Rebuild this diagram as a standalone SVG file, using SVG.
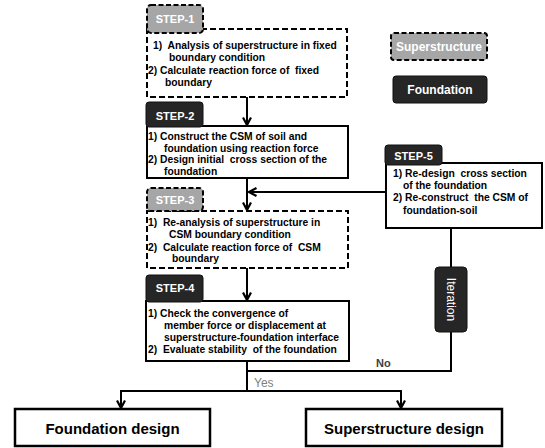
<svg xmlns="http://www.w3.org/2000/svg" width="545" height="448" viewBox="0 0 545 448">
<defs>
<marker id="arr" viewBox="0 0 10 10" refX="9" refY="5" markerWidth="10" markerHeight="10" markerUnits="userSpaceOnUse" orient="auto">
<path d="M1.5,1 L9,5 L1.5,9" fill="none" stroke="#000" stroke-width="2.2"/>
</marker>
<style>
.dash{fill:#fff;stroke:#000;stroke-width:2;stroke-dasharray:6,3}
.solid{fill:#fff;stroke:#000;stroke-width:2}
.tabg{fill:#a6a6a6;stroke:#000;stroke-width:2;stroke-dasharray:5,2.5}
.tabd{fill:#262626;stroke:#111;stroke-width:1}
.tt{font-family:"Liberation Sans",Arial,sans-serif;font-weight:bold;font-size:11px;fill:#fff;text-anchor:middle}
.bt{font-family:"Liberation Sans",Arial,sans-serif;font-weight:bold;font-size:10.3px;fill:#000}
.ln{fill:none;stroke:#000;stroke-width:2}
.big{fill:#fff;stroke:#000;stroke-width:2.5}
.bigt{font-family:"Liberation Sans",Arial,sans-serif;font-weight:bold;font-size:15px;fill:#000;text-anchor:middle}
</style>
</defs>
<g id="connectors">
<line class="ln" x1="247" y1="97" x2="247" y2="125" marker-end="url(#arr)"/>
<line class="ln" x1="247" y1="178" x2="247" y2="210" marker-end="url(#arr)"/>
<line class="ln" x1="247" y1="268" x2="247" y2="300" marker-end="url(#arr)"/>
<line class="ln" x1="386" y1="192" x2="249" y2="192" marker-end="url(#arr)"/>
<line class="ln" x1="451" y1="228" x2="451" y2="267"/>
<polyline class="ln" points="451,332 451,371 247,371"/>
<line class="ln" x1="247" y1="361" x2="247" y2="391"/>
<path class="ln" d="M247,391 H121 V408" marker-end="url(#arr)"/>
<path class="ln" d="M247,391 H401 V408" marker-end="url(#arr)"/>
<text x="376" y="367" font-family="Liberation Sans,Arial,sans-serif" font-weight="bold" font-size="11" fill="#404040">No</text>
<text x="254" y="387" font-family="Liberation Sans,Arial,sans-serif" font-size="12" fill="#808080">Yes</text>
</g>
<g id="step1">
<rect class="dash" x="147" y="29" width="200" height="68"/>
<rect class="tabg" x="147" y="5" width="56" height="28" rx="4"/>
<text class="tt" x="175" y="23">STEP-1</text>
<text class="bt" xml:space="preserve"><tspan x="153" y="49">1)  Analysis of superstructure in fixed</tspan><tspan x="169" y="61">boundary condition</tspan><tspan x="148" y="74">2) Calculate reaction force of  fixed</tspan><tspan x="165" y="86">boundary</tspan></text>
</g>
<g id="step2">
<rect class="solid" x="147" y="126" width="201" height="52"/>
<rect class="tabd" x="146" y="102" width="57" height="25" rx="3"/>
<text class="tt" x="175" y="120">STEP-2</text>
<text class="bt" xml:space="preserve"><tspan x="148" y="140">1) Construct the CSM of soil and</tspan><tspan x="164" y="151.5">foundation using reaction force</tspan><tspan x="148" y="163">2) Design initial  cross section of the</tspan><tspan x="164" y="174.5">foundation</tspan></text>
</g>
<g id="step3">
<rect class="dash" x="147" y="211" width="201" height="57"/>
<rect class="tabg" x="147" y="188" width="56" height="23" rx="4"/>
<text class="tt" x="175" y="204">STEP-3</text>
<text class="bt" xml:space="preserve"><tspan x="148" y="226">1)  Re-analysis of superstructure in</tspan><tspan x="169" y="238">CSM boundary condition</tspan><tspan x="148" y="251">2)  Calculate reaction force of  CSM</tspan><tspan x="172" y="262">boundary</tspan></text>
</g>
<g id="step4">
<rect class="solid" x="146" y="301" width="203" height="60"/>
<rect class="tabd" x="146" y="275" width="57" height="27" rx="3"/>
<text class="tt" x="175" y="292">STEP-4</text>
<text class="bt" xml:space="preserve"><tspan x="148" y="317">1) Check the convergence of</tspan><tspan x="164" y="328.5">member force or displacement at</tspan><tspan x="164" y="341">superstructure-foundation interface</tspan><tspan x="148" y="353">2)  Evaluate stability  of the foundation</tspan></text>
</g>
<g id="step5">
<rect class="solid" x="386" y="163" width="156" height="65"/>
<rect class="tabd" x="385" y="145" width="57" height="20" rx="3"/>
<text class="tt" x="413.5" y="160">STEP-5</text>
<text class="bt" xml:space="preserve"><tspan x="393" y="177">1) Re-design  cross section</tspan><tspan x="403" y="189">of the foundation</tspan><tspan x="393" y="201">2) Re-construct  the CSM of</tspan><tspan x="403" y="214">foundation-soil</tspan></text>
</g>
<g id="iteration">
<rect class="tabd" x="435" y="267" width="32" height="65" rx="4"/>
<text transform="translate(451,299.5) rotate(90)" font-family="Liberation Sans,Arial,sans-serif" font-size="12" fill="#fff" text-anchor="middle" dominant-baseline="central">Iteration</text>
</g>
<g id="legend-superstructure">
<rect class="tabg" x="391" y="33" width="96" height="27" rx="3"/>
<text class="tt" x="439" y="51" style="font-size:12px">Superstructure</text>
</g>
<g id="legend-foundation">
<rect class="tabd" x="393" y="76" width="94" height="27" rx="3"/>
<text class="tt" x="440" y="94" style="font-size:12px">Foundation</text>
</g>
<g id="foundation-design">
<rect class="big" x="15" y="409" width="195" height="37"/>
<text class="bigt" x="112.5" y="434">Foundation design</text>
</g>
<g id="superstructure-design">
<rect class="big" x="306" y="409" width="196" height="37"/>
<text class="bigt" x="404" y="434">Superstructure design</text>
</g>
</svg>
